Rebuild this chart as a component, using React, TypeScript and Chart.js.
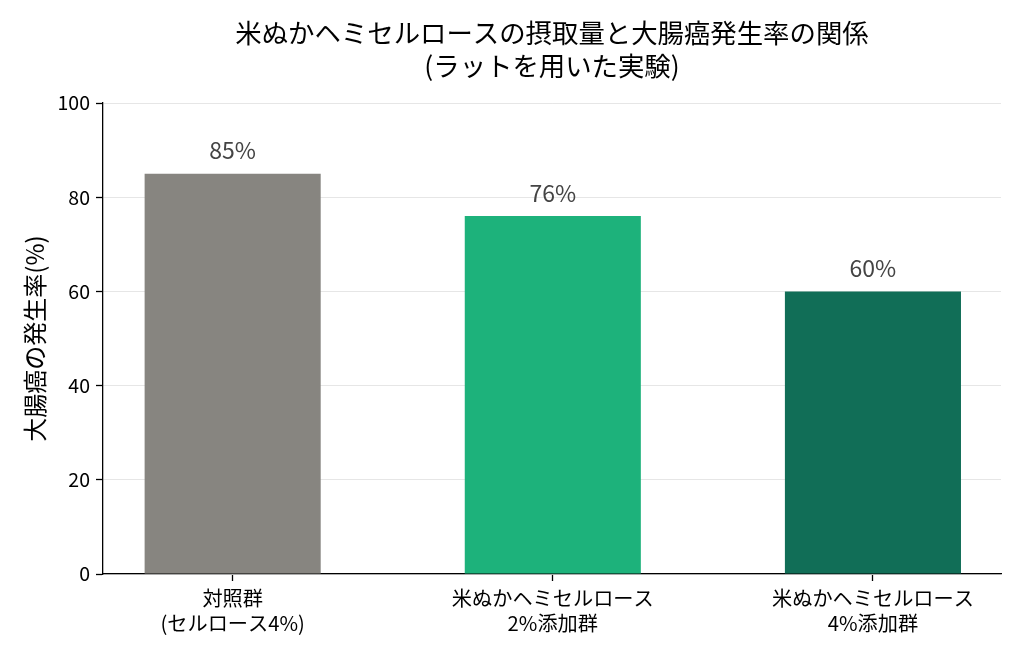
import React, { useEffect, useRef } from "react";
import { Chart, registerables } from "chart.js";

Chart.register(...registerables);

// chart data
const categoryLabels: string[][] = [
  ["対照群", "(セルロース4%)"],
  ["米ぬかヘミセルロース", "2%添加群"],
  ["米ぬかヘミセルロース", "4%添加群"],
];
const categoryPositions = [0, 1, 2];
const incidenceRates = [85, 76, 60];
const barColors = ["#878580", "#1db27b", "#116e57"];
const yTickValues = [0, 20, 40, 60, 80, 100];
const titleLines = ["米ぬかヘミセルロースの摂取量と大腸癌発生率の関係", "(ラットを用いた実験)"];
const yAxisTitle = "大腸癌の発生率(%)";

const FONT = "'Noto Sans CJK JP', 'Noto Sans', sans-serif";

const App: React.FC = () => {
  const canvasRef = useRef<HTMLCanvasElement | null>(null);

  useEffect(() => {
    document.body.style.margin = "0";
    const ctx = canvasRef.current?.getContext("2d");
    if (!ctx) return;

    // titles + value labels drawn by hand
    const textPlugin = {
      id: "textPlugin",
      afterDraw: (chart: Chart) => {
        const { ctx, chartArea } = chart;
        ctx.save();
        ctx.fillStyle = "#000";
        ctx.textAlign = "center";
        ctx.textBaseline = "middle";
        ctx.font = `26.4px ${FONT}`;
        const cx = (chartArea.left + chartArea.right) / 2;
        titleLines.forEach((line, i) => ctx.fillText(line, cx, 33 + i * 33));

        ctx.font = `24px ${FONT}`;
        ctx.translate(35, (chartArea.top + chartArea.bottom) / 2);
        ctx.rotate(-Math.PI / 2);
        ctx.fillText(yAxisTitle, 0, 0);
        ctx.restore();

        ctx.save();
        ctx.fillStyle = "#444";
        ctx.textAlign = "center";
        ctx.textBaseline = "middle";
        ctx.font = `23px ${FONT}`;
        const meta = chart.getDatasetMeta(0);
        meta.data.forEach((bar: any, i: number) => {
          ctx.fillText(`${incidenceRates[i]}%`, bar.x, bar.y - 23);
        });
        ctx.restore();
      },
    };

    const chart = new Chart(ctx, {
      type: "bar",
      data: {
        datasets: [
          {
            data: categoryPositions.map((x, i) => ({ x, y: incidenceRates[i] })),
            backgroundColor: barColors,
            borderWidth: 0,
            barPercentage: 0.55,
            categoryPercentage: 1,
          },
        ],
      },
      options: {
        animation: false,
        responsive: false,
        layout: { padding: { top: 103, right: 23, left: 0, bottom: 0 } },
        plugins: {
          legend: { display: false },
          tooltip: { enabled: false },
        },
        scales: {
          x: {
            type: "linear",
            min: -0.405,
            max: 2.4,
            offset: false,
            afterFit: (scale: any) => {
              scale.height = 84;
            },
            ticks: {
              stepSize: 1,
              includeBounds: false,
              autoSkip: false,
              maxRotation: 0,
              padding: 5,
              color: "#000",
              font: { family: FONT, size: 20.2, lineHeight: 1.24 },
              callback: (value: any) => {
                const idx = categoryPositions.indexOf(Number(value));
                return idx >= 0 ? categoryLabels[idx] : "";
              },
            },
            grid: {
              offset: false,
              drawOnChartArea: false,
              drawTicks: true,
              tickLength: 7,
              tickColor: "#000",
              tickWidth: 1.3,
            },
            border: { color: "#000", width: 1.3 },
          },
          y: {
            min: 0,
            max: 100,
            afterFit: (scale: any) => {
              scale.width = 103;
            },
            afterBuildTicks: (scale: any) => {
              scale.ticks = yTickValues.map((v) => ({ value: v }));
            },
            ticks: {
              padding: 6,
              color: "#000",
              font: { family: FONT, size: 19.5 },
            },
            grid: {
              color: "#e6e6e6",
              lineWidth: 1,
              tickLength: 7,
              tickColor: "#000",
              tickWidth: 1.3,
            },
            border: { color: "#000", width: 1.3 },
          },
        },
      },
      plugins: [textPlugin],
    });

    return () => {
      chart.destroy();
    };
  }, []);

  return (
    <div style={{ width: 1024, height: 658, background: "#fff" }}>
      <canvas ref={canvasRef} width={1024} height={658} role="img" aria-label={titleLines.join(" ")} />
    </div>
  );
};

export default App;
